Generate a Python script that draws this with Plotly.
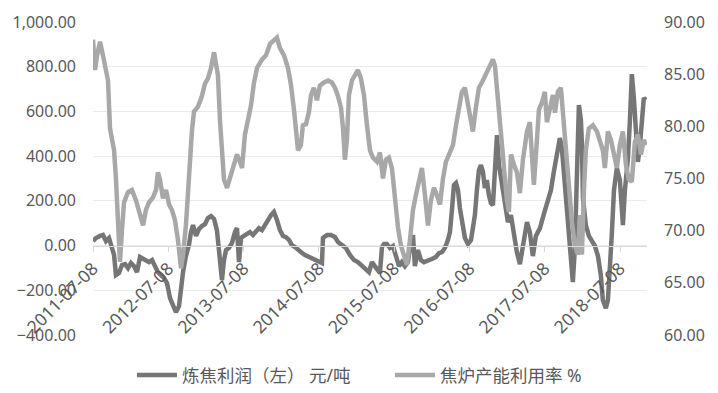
import numpy as np
import pandas as pd
import plotly.graph_objects as go

START = "2011-07-08"

# 焦炉产能利用率 % (right axis): weeks since start, value
util_weeks = [0, 1.4, 2.8, 4.9, 6.9, 9.0, 10.4, 11.8, 13.2, 14.6, 15.9, 17.3, 18.7, 20.1, 21.5, 24.3, 27.0, 29.8,
              32.6, 34.7, 36.7, 38.8, 41.6, 43.7, 45.0, 46.4, 48.5, 50.6, 52.7, 54.7, 56.8, 58.9, 61.0, 62.4, 64.4,
              66.5, 68.6, 70.0, 72.8, 75.5, 77.6, 79.7, 81.8, 83.9, 85.2, 86.6, 88.0, 89.4, 90.8, 92.9, 94.9, 97.7,
              99.8, 101.9, 103.3, 105.3, 107.4, 109.5, 111.6, 113.7, 117.1, 119.9, 122.7, 125.4, 127.5, 129.6, 132.4,
              135.1, 137.2, 139.3, 140.7, 142.1, 144.1, 145.5, 147.6, 149.7, 151.1, 153.1, 155.2, 157.3, 160.1, 162.9,
              165.6, 167.7, 169.8, 171.9, 173.3, 174.6, 176.0, 177.4, 179.5, 181.6, 183.6, 185.7, 187.8, 189.9, 192.0,
              194.0, 196.8, 198.9, 201.0, 203.0, 205.1, 207.2, 209.3, 211.4, 213.4, 215.5, 217.6, 219.7, 221.8, 223.8,
              225.9, 228.0, 230.1, 232.2, 234.2, 236.3, 238.4, 240.5, 242.6, 244.6, 247.4, 249.5, 251.6, 253.6, 255.7,
              257.8, 259.9, 262.0, 263.3, 265.4, 267.5, 269.6, 271.7, 273.7, 275.8, 277.2, 278.6, 280.7, 282.7, 284.8,
              286.9, 288.3, 289.7, 291.8, 293.8, 295.9, 298.0, 300.8, 302.8, 304.2, 305.6, 307.7, 309.1, 311.2, 313.2,
              314.6, 316.7, 318.8, 320.2, 322.2, 324.3, 325.7, 327.8, 329.9, 332.0, 334.0, 336.1, 337.5, 338.9, 340.3,
              341.6, 343.7, 346.5, 349.3, 351.4, 353.4, 354.8, 356.9, 359.0, 361.1, 363.1, 365.2, 367.3, 369.4, 371.4,
              373.5, 375.6, 377.7, 379.8, 381.8, 383.2]
util_values = [88.3, 85.4, 86.8, 88.1, 86.8, 85.6, 84.4, 79.8, 78.7, 77.7, 75.0, 70.5, 67.0, 70.1, 72.7, 73.7, 73.9, 72.9,
               71.5, 70.5, 72.0, 72.7, 73.2, 73.9, 75.6, 74.9, 73.1, 73.9, 72.5, 72.0, 71.0, 69.1, 66.4, 67.7, 70.5,
               75.3, 79.6, 81.4, 81.9, 82.9, 84.1, 84.6, 85.6, 87.1, 86.1, 84.9, 80.6, 76.8, 74.9, 74.1, 75.1, 76.5,
               77.3, 76.6, 76.0, 79.2, 80.6, 82.0, 84.2, 85.6, 86.4, 86.8, 87.9, 88.3, 88.5, 87.5, 86.8,
               85.6, 84.0, 81.6, 79.2, 77.7, 78.2, 80.1, 80.2, 81.4, 83.0, 83.7, 82.5, 83.9, 84.2, 84.4,
               84.2, 83.7, 82.9, 81.8, 79.8, 76.8, 78.7, 83.0, 84.4, 85.0, 85.4, 84.6, 83.0, 80.1, 77.7,
               77.0, 76.6, 77.5, 75.0, 76.8, 77.0, 76.0, 72.9, 70.3, 68.6, 67.7, 66.7, 69.1, 72.0, 73.4,
               74.6, 76.0, 73.4, 70.5, 72.9, 74.1, 73.4, 72.5, 75.0, 76.6, 77.5, 78.2, 80.1, 82.0, 83.3,
               83.7, 82.0, 80.1, 79.5, 81.8, 83.7, 84.2, 84.8, 85.6, 86.2, 86.4, 85.8, 82.5, 78.9, 76.6,
               72.9, 71.8, 77.3, 76.3, 75.6, 73.6, 76.8, 79.5, 80.4, 77.3, 74.4, 78.7, 81.6, 82.3, 83.3,
               80.4, 82.0, 83.0, 81.3, 83.3, 83.7, 81.4, 77.7, 73.9, 70.8, 68.6, 67.7, 71.5, 67.7, 73.9,
               77.7, 79.8, 80.1, 79.5, 78.7, 77.7, 76.0, 79.5, 78.7, 77.3, 76.0, 78.2, 79.5, 76.3, 74.9,
               74.7, 78.5, 79.2, 77.3, 78.7, 78.2]

# 炼焦利润（左）元/吨 (left axis): weeks since start, value
profit_weeks = [0, 2.1, 4.9, 6.9, 9.0, 11.1, 13.2, 14.6, 15.9, 18.0, 20.1, 22.2, 24.3, 26.3, 28.4, 30.5, 32.6, 34.7,
                36.7, 38.8, 40.9, 43.0, 45.0, 47.1, 49.2, 51.3, 53.4, 55.4, 57.5, 59.6, 61.0, 62.4, 64.4, 66.5, 67.9,
                69.3, 71.4, 73.5, 75.5, 77.6, 79.7, 81.8, 83.9, 85.9, 87.3, 88.7, 89.4, 90.8, 92.2, 94.2, 96.3, 98.4,
                99.8, 101.2, 102.6, 104.6, 106.7, 108.8, 110.9, 113.0, 115.0, 117.1, 119.2, 121.3, 123.4, 125.4, 127.5,
                129.6, 131.7, 133.7, 135.8, 137.9, 140.0, 142.1, 144.1, 146.9, 149.7, 152.5, 155.2, 157.3, 158.7, 159.4,
                162.2, 164.9, 167.7, 169.8, 172.6, 175.3, 178.1, 180.9, 183.6, 186.4, 189.2, 191.3, 193.3, 195.4, 197.5,
                198.9, 200.3, 201.7, 203.7, 205.8, 207.9, 210.0, 212.1, 214.1, 216.2, 218.3, 219.7, 221.8, 223.1, 225.2,
                227.3, 229.4, 232.2, 234.9, 237.7, 239.8, 241.9, 243.9, 246.0, 247.4, 248.8, 250.2, 251.6, 253.0, 254.3,
                255.7, 257.8, 259.9, 262.0, 263.3, 264.7, 266.1, 267.5, 268.9, 270.3, 271.6, 273.0, 274.4, 275.8, 277.2,
                278.6, 280.0, 281.4, 283.4, 285.5, 287.6, 289.7, 291.8, 293.8, 295.9, 298.0, 300.8, 302.8, 304.9, 307.0,
                309.8, 312.5, 315.3, 317.4, 319.4, 321.6, 323.6, 325.0, 327.1, 329.2, 331.3, 332.6, 334.0, 335.4, 336.8,
                338.2, 338.9, 339.6, 341.6, 343.7, 345.8, 347.9, 350.0, 352.0, 353.4, 355.5, 356.9, 358.3, 359.7, 361.1,
                363.1, 365.2, 366.6, 367.3, 368.7, 370.8, 372.1, 373.5, 374.9, 376.3, 377.7, 379.1, 380.5, 381.8, 383.2]
profit_values = [20, 34, 43, 47, 20, 34, -11, -42, -132, -123, -87, -83, -101, -78, -92, -119, -51, -60,
                 -69, -74, -65, -92, -119, -132, -145, -168, -235, -266, -298, -271, -190, -119, -47, 2, 60,
                 92, 43, 74, 87, 96, 123, 132, 119, 69, -20, -110, -154, -65, -20, -11, 11, 60,
                 78, -74, 34, 43, 51, 60, 47, 60, 78, 69, 96, 114, 136, 150, 114,
                 69, 43, 38, 25, 2, -7, -20, -29, -42, -51, -60, -65, -74, -78, 34,
                 47, 47, 38, 16, 2, -11, -42, -65, -74, -92, -110, -119, -74, -92, -110,
                 -123, -7, 7, 7, -11, -2, -56, -92, -74, -92, -74, -11, 47, -92, -20,
                 -65, -74, -69, -60, -51, -34, -29, -11, 25, 60, 159, 271, 280, 248, 168,
                 105, 34, 7, 25, 78, 136, 248, 338, 360, 329, 257, 293, 226, 190, 181,
                 329, 494, 360, 284, 195, 105, 136, 34, -29, -83, -11, 105, 60, -47, 43,
                 78, 141, 204, 248, 329, 405, 481, 436, 257, 105, -74, -163, -11, 293, 629,
                 561, 450, 213, 92, 43, 16, -2, -47, -132, -244, -280, -244, -119, 60, 248,
                 347, 293, 168, 92, 248, 392, 552, 767, 660, 494, 374, 449, 539, 660, 651]

tick_labels = ["2011-07-08", "2012-07-08", "2013-07-08", "2014-07-08",
               "2015-07-08", "2016-07-08", "2017-07-08", "2018-07-08"]

start = pd.Timestamp(START)
util_dates = start + pd.to_timedelta(np.array(util_weeks) * 7, unit="D")
profit_dates = start + pd.to_timedelta(np.array(profit_weeks) * 7, unit="D")
x_end = start + pd.to_timedelta(384 * 7, unit="D")

FONT = "Noto Sans, Noto Sans CJK SC, sans-serif"
TXT = "#595959"

fig = go.Figure()
fig.add_trace(go.Scatter(x=util_dates, y=util_values, mode="lines", name="焦炉产能利用率 %",
                         yaxis="y2", line=dict(color="#a8a8a8", width=4.5)))
fig.add_trace(go.Scatter(x=profit_dates, y=profit_values, mode="lines", name="炼焦利润（左） 元/吨",
                         yaxis="y", line=dict(color="#767676", width=4.5)))

fig.update_layout(
    width=710, height=385,
    margin=dict(l=85, r=71, t=14, b=58, autoexpand=False),
    paper_bgcolor="white", plot_bgcolor="white",
    font=dict(family=FONT, size=16, color=TXT),
    showlegend=True,
    legend=dict(orientation="h", x=0.536, xanchor="center", y=-0.128, yanchor="middle",
                traceorder="reversed", font=dict(size=17.5, color=TXT), itemwidth=40,
                entrywidth=203, entrywidthmode="pixels"),
    xaxis=dict(type="date", range=[start, x_end], anchor="free", position=400 / 1400,
               tickmode="array", tickvals=[pd.Timestamp(t) for t in tick_labels], ticktext=tick_labels,
               tickangle=-45, showgrid=False, showline=True, linecolor="#d9d9d9", linewidth=1,
               ticks="outside", ticklen=5, tickcolor="#d9d9d9", zeroline=False,
               tickfont=dict(size=17.5, color=TXT)),
    yaxis=dict(range=[-400, 1000], tickvals=[-400, -200, 0, 200, 400, 600, 800, 1000],
               tickformat=",.2f", showgrid=True, gridcolor="#ebebeb", gridwidth=1,
               zeroline=False, showline=False, ticks="", ticklabelstandoff=16,
               tickfont=dict(size=16, color=TXT)),
    yaxis2=dict(range=[60, 90], tickvals=[60, 65, 70, 75, 80, 85, 90], tickformat=".2f",
                overlaying="y", side="right", showgrid=False, zeroline=False, showline=False,
                ticks="", ticklabelstandoff=16, tickfont=dict(size=16, color=TXT)),
)

fig.write_html("out.html")
